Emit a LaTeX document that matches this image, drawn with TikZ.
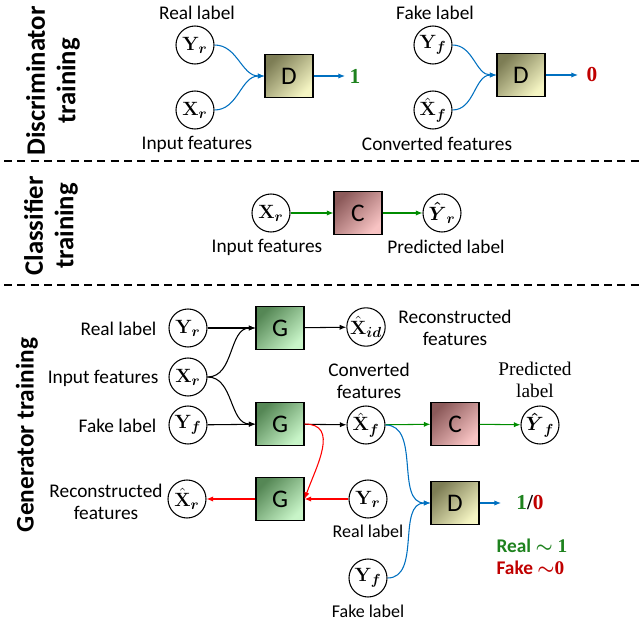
\documentclass[tikz,border=0pt]{standalone}
\usepackage{amsmath,amssymb}
\usepackage[no-math]{fontspec}
\setmainfont{Carlito}
\newfontfamily\serifx{Liberation Serif}
\usepackage{xcolor}
\usepackage{tikz}
\usetikzlibrary{arrows.meta,positioning}

\definecolor{arrblue}{RGB}{0,112,192}
\definecolor{arrgreen}{RGB}{0,140,0}
\definecolor{arrred}{RGB}{255,0,0}
\definecolor{txtgreen}{RGB}{30,130,30}
\definecolor{txtred}{RGB}{192,0,0}
\definecolor{ddark}{RGB}{125,125,85}
\definecolor{dlight}{RGB}{245,245,195}
\definecolor{gdark}{RGB}{85,135,85}
\definecolor{glight}{RGB}{200,245,200}
\definecolor{cdark}{RGB}{140,90,90}
\definecolor{clight}{RGB}{248,195,195}

\newcommand{\bv}[2]{\mathbf{#1}_{\boldsymbol{#2}}}
\newcommand{\hv}[2]{\hat{\mathbf{#1}}_{\boldsymbol{#2}}}
\newcommand{\hy}[1]{\boldsymbol{\hat{Y}}_{\boldsymbol{#1}}}

\begin{document}
\begin{tikzpicture}[
  x=0.75pt,y=-0.75pt,
  font=\fontsize{14.5}{16}\selectfont,
  var/.style={draw,circle,line width=0.8pt,minimum size=28.5pt,inner sep=0pt,font=\fontsize{15}{17}\selectfont},
  net/.style={draw,line width=0.8pt,minimum width=36pt,minimum height=32pt,inner sep=0pt,font=\fontsize{19}{19}\selectfont},
  dnet/.style={net,top color=ddark,bottom color=dlight,shading angle=45},
  gnet/.style={net,top color=gdark,bottom color=glight,shading angle=45},
  cnet/.style={net,top color=cdark,bottom color=clight,shading angle=45},
  txt/.style={align=center,inner sep=1pt},
  small/.style={txt,font=\fontsize{13.5}{15}\selectfont},
  sect/.style={rotate=90,align=center,font=\fontsize{20}{23}\selectfont\bfseries},
  outval/.style={font=\fontsize{16}{16}\serifx\bfseries},
  arr/.style={-{Latex[length=5pt,width=4pt]},line width=0.8pt},
  barr/.style={arr,arrblue},
  garr/.style={arr,arrgreen},
  rarr/.style={arr,arrred},
  sepline/.style={dashed,line width=1pt,dash pattern=on 6pt off 4pt},
]
\useasboundingbox (0,0) rectangle (643,620);

% section titles
\node[sect] (tdis) at (53,81) {Discriminator\\training};
\node[sect] (tcls) at (51,226) {Classifier\\training};
\node[sect,font=\fontsize{19}{23}\selectfont\bfseries] (tgen) at (27,435) {Generator training};
\draw[sepline] (4,161) -- (640,161);
\draw[sepline] (4,285) -- (640,285);

% discriminator training
\node[var] (yr1) at (195,45) {$\bv{Y}{r}$};
\node[var] (xr1) at (195,110) {$\bv{X}{r}$};
\node[dnet] (d1) at (289,76) {D};
\node[outval,text=txtgreen] (one1) at (355,76) {1};
\node[txt] (lyr1) at (197,13) {Real label};
\node[txt] (lxr1) at (197,144) {Input features};
\draw[barr] (yr1) to[out=0,in=180] (d1.west);
\draw[barr] (xr1) to[out=0,in=180] (d1.west);
\draw[barr] (d1) -- (one1);

\node[var] (yf1) at (433,45) {$\bv{Y}{f}$};
\node[var] (xf1) at (433,110) {$\hv{X}{f}$};
\node[dnet] (d2) at (521,75) {D};
\node[outval,text=txtred] (zero1) at (592,75) {0};
\node[txt] (lyf1) at (435,13) {Fake label};
\node[txt] (lxf1) at (437,144) {Converted features};
\draw[barr] (yf1) to[out=0,in=180] (d2.west);
\draw[barr] (xf1) to[out=0,in=180] (d2.west);
\draw[barr,shorten >=3pt] (d2) -- (zero1);

% classifier training
\node[var] (xr2) at (271,213) {$\bv{X}{r}$};
\node[cnet] (c1) at (358,213) {C};
\node[var] (yh2) at (442,213) {$\hy{r}$};
\node[txt] (lxr2) at (267,247) {Input features};
\node[txt] (lyh2) at (446,247) {Predicted label};
\draw[garr] (xr2) -- (c1);
\draw[garr] (c1) -- (yh2);

% generator training
\node[var] (yr3) at (188,328) {$\bv{Y}{r}$};
\node[var] (xr3) at (188,377) {$\bv{X}{r}$};
\node[var] (yf3) at (188,425) {$\bv{Y}{f}$};
\node[txt,anchor=east] (lyr3) at (158,329) {Real label};
\node[txt,anchor=east] (lxr3) at (160,378) {Input features};
\node[txt,anchor=east] (lyf3) at (158,426) {Fake label};
\node[gnet] (g1) at (280,328) {G};
\node[gnet] (g2) at (280,424) {G};
\node[gnet] (g3) at (280,499) {G};
\node[var] (xid) at (366,327) {$\hv{X}{id}$};
\node[var] (xf3) at (366,425) {$\hv{X}{f}$};
\node[cnet] (c2) at (455,424) {C};
\node[var] (yhf) at (540,425) {$\hy{f}$};
\node[txt] (lxid) at (455,328) {Reconstructed\\features};
\node[txt] (lxf3) at (369,381) {Converted\\features};
\node[txt,font=\fontsize{14.5}{16}\serifx] (lyhf) at (535,380) {Predicted\\label};
\node[var] (xhr) at (187,499) {$\hv{X}{r}$};
\node[txt] (lxhr) at (106,502) {Reconstructed\\features};
\node[var] (yr4) at (368,499) {$\bv{Y}{r}$};
\node[small] (lyr4) at (368,531) {Real label};
\node[var] (yf4) at (368,578) {$\bv{Y}{f}$};
\node[small] (lyf4) at (368,611) {Fake label};
\node[dnet] (d3) at (455,503) {D};
\node[outval] (o3) at (530,503) {\textcolor{txtgreen}{1}/\textcolor{txtred}{0}};
\node[txt,text=txtgreen,anchor=west] (lreal) at (495,546) {\bfseries Real {\serifx$\boldsymbol{\sim}$ 1}};
\node[txt,text=txtred,anchor=west] (lfake) at (495,568) {\bfseries Fake {\serifx$\boldsymbol{\sim}$0}};

\draw[arr] (yr3) -- (g1);
\draw[arr] (yf3) -- (g2);
\draw[arr] (xr3) to[out=0,in=180] (g1.west);
\draw[arr] (xr3) to[out=0,in=180] (g2.west);
\draw[arr] (g1) -- (xid);
\draw[arr] (g2) -- (xf3);
\draw[garr] (xf3) -- (c2);
\draw[garr] (c2) -- (yhf);
\draw[rarr] (g2.east) to[out=0,in=70,looseness=1.2] (g3.east);
\draw[rarr] (yr4) -- (g3);
\draw[rarr] (g3) -- (xhr);
\draw[barr] (xf3) to[out=0,in=180] (d3.west);
\draw[barr] (yf4) to[out=0,in=180] (d3.west);
\draw[barr,shorten >=8pt] (d3) -- (o3);
\end{tikzpicture}
\end{document}
